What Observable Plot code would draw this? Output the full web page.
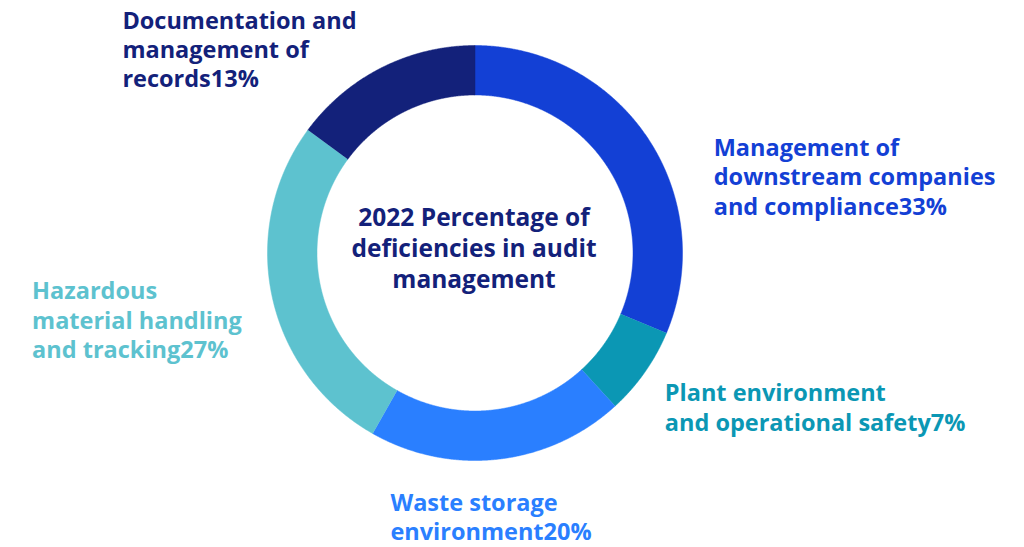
<!DOCTYPE html>
<html>
<head>
<meta charset="utf-8">
<script src="https://cdn.jsdelivr.net/npm/d3@7"></script>
<script src="https://cdn.jsdelivr.net/npm/@observablehq/plot@0.6"></script>
<style>
  html, body { margin: 0; padding: 0; background: #ffffff; }
  #chart svg { display: block; }
</style>
</head>
<body>
<div id="chart"></div>
<script>
// ---- data ----
const categories = [
  "Management of\ndownstream companies\nand compliance",
  "Plant environment\nand operational safety",
  "Waste storage\nenvironment",
  "Hazardous\nmaterial handling\nand tracking",
  "Documentation and\nmanagement of\nrecords"
];
const labelPct = [33, 7, 20, 27, 13];          // percentages printed on the labels
const arcShare = [31.3, 6.9, 20.0, 26.9, 14.9]; // arc shares as drawn in the ring
const segColors = ["#1340d5", "#0b97b4", "#2a7fff", "#5dc2cf", "#13217a"];
const centerTitle = "2022 Percentage of\ndeficiencies in audit\nmanagement";

// ---- layout ----
const W = 1024, H = 547;
const cx = 474.5, cy = 252.5, R = 207.5, rIn = 158;
const fontSize = 23.5;
const labelNudge = [[66, -3], [20, 8], [-108, 31], [-240, -18], [-259, -60]];

const total = d3.sum(arcShare);
let acc = 0;
const segs = categories.map((c, i) => {
  const a0 = acc / total * 2 * Math.PI;
  acc += arcShare[i];
  const a1 = acc / total * 2 * Math.PI;
  return { i, name: c, pct: labelPct[i], a0, a1, mid: (a0 + a1) / 2 };
});

const ringPts = [];
for (const s of segs) {
  const n = Math.max(2, Math.ceil((s.a1 - s.a0) / (Math.PI / 720)));
  for (let k = 0; k <= n; k++) {
    const a = s.a0 + (s.a1 - s.a0) * k / n;
    ringPts.push({ seg: s.name, x: Math.sin(a), y: Math.cos(a) });
  }
  const f = rIn / R;
  for (let k = n; k >= 0; k--) {
    const a = s.a0 + (s.a1 - s.a0) * k / n;
    ringPts.push({ seg: s.name, x: f * Math.sin(a), y: f * Math.cos(a) });
  }
}

const labelMarks = segs.map(s => Plot.text([s], {
  x: d => Math.sin(d.mid),
  y: d => Math.cos(d.mid),
  text: d => d.name + d.pct + "%",
  dx: labelNudge[s.i][0],
  dy: labelNudge[s.i][1],
  textAnchor: "start",
  lineAnchor: "top",
  lineHeight: 1.25,
  fill: segColors[s.i],
  fontSize: fontSize,
  fontWeight: "bold"
}));

const chart = Plot.plot({
  width: W,
  height: H,
  margin: 0,
  style: { fontFamily: "'Open Sans', sans-serif", background: "#ffffff" },
  x: { domain: [-cx / R, (W - cx) / R], range: [0, W], axis: null },
  y: { domain: [-(H - cy) / R, cy / R], range: [H, 0], axis: null },
  color: { type: "ordinal", domain: categories, range: segColors },
  marks: [
    Plot.line(ringPts, { x: "x", y: "y", z: "seg", fill: "seg", stroke: "seg", strokeWidth: 0.5, curve: "linear" }),
    ...labelMarks,
    Plot.text([centerTitle], {
      x: () => 0, y: () => 0, text: d => d,
      textAnchor: "middle", lineAnchor: "middle", lineHeight: 1.265,
      fill: "#13217a", fontSize: 24.5, fontWeight: "bold", dy: -6, dx: -1
    })
  ]
});
document.getElementById("chart").appendChild(chart);
</script>
</body>
</html>
